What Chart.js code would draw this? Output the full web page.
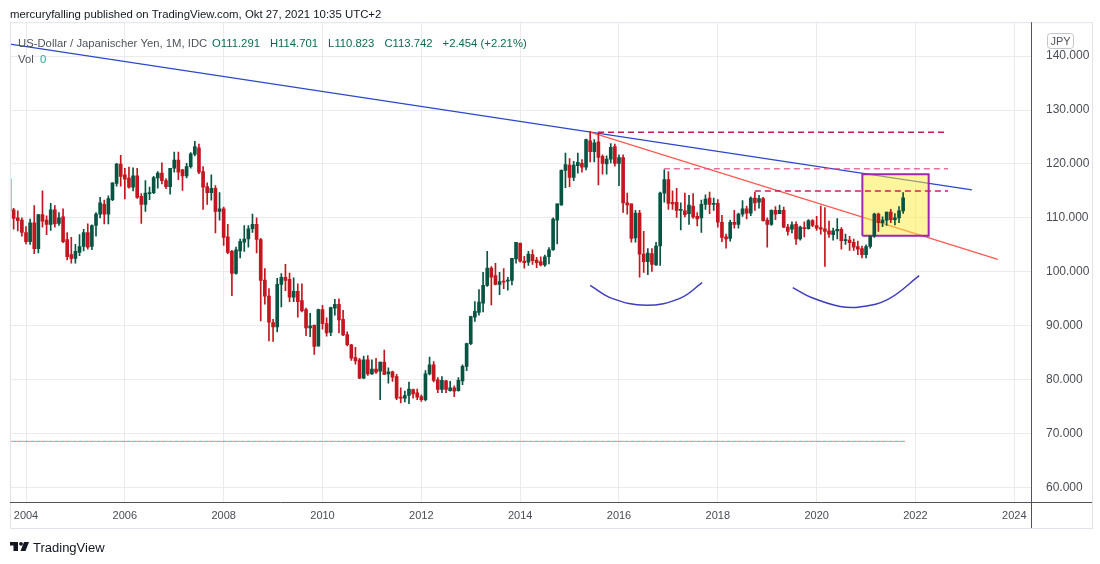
<!DOCTYPE html>
<html>
<head>
<meta charset="utf-8">
<script src="https://cdn.jsdelivr.net/npm/chart.js"></script>
<style>
  html, body { margin: 0; padding: 0; background: #fff; }
  #wrap { width: 1100px; height: 564px; }
</style>
</head>
<body>
<div id="wrap"><canvas id="chart" width="1100" height="564"></canvas></div>
<script>
// monthly USD/JPY candles, index 0 = Sep 2003
const opens = [
  117.2, 111.5, 110.0, 109.6,
  107.3, 105.6, 109.1, 104.3, 110.6, 109.6, 108.8, 111.5, 109.0, 110.2, 106.0, 103.2,
  102.5, 103.6, 104.7, 107.3, 104.7, 108.6, 110.7, 112.5, 110.7, 113.4, 116.4, 120.0,
  118.0, 117.4, 115.7, 117.8, 114.0, 112.5, 114.5, 114.7, 117.4, 118.3, 116.9, 115.8,
  119.2, 120.7, 118.9, 117.8, 119.5, 121.8, 123.0, 118.6, 115.8, 114.7, 115.5, 111.2,
  111.7, 106.5, 103.8, 99.7, 103.9, 105.5, 106.1, 108.0, 108.8, 106.0, 98.5, 95.5,
  90.6, 89.8, 97.7, 99.0, 98.6, 95.3, 96.4, 94.7, 93.0, 89.6, 90.1, 86.3,
  93.0, 90.4, 88.8, 93.3, 94.0, 91.2, 88.4, 86.5, 84.1, 83.7, 80.3, 83.7,
  81.1, 82.0, 81.6, 83.3, 81.1, 81.5, 80.6, 76.8, 76.6, 77.1, 78.2, 77.6,
  76.9, 76.3, 81.1, 82.8, 80.0, 78.2, 79.8, 78.0, 78.5, 78.0, 79.8, 82.5,
  86.7, 91.6, 92.5, 94.2, 97.5, 100.7, 99.3, 97.7, 98.3, 98.3, 98.4, 102.4,
  105.3, 102.0, 101.8, 103.2, 102.2, 101.9, 101.3, 102.8, 104.1, 109.6, 112.4, 118.8,
  119.8, 117.5, 119.7, 120.1, 119.4, 124.3, 122.3, 124.1, 121.4, 120.0, 120.9, 123.2,
  120.1, 121.2, 112.8, 112.6, 106.3, 110.9, 103.3, 101.9, 103.4, 101.3, 104.8, 114.6,
  117.1, 112.9, 112.9, 111.4, 111.3, 110.8, 112.2, 110.3, 110.0, 112.5, 113.7, 112.5,
  112.7, 109.2, 106.5, 106.2, 109.2, 108.8, 110.7, 111.7, 110.9, 113.7, 112.9, 113.6,
  109.6, 108.8, 111.4, 110.8, 111.4, 108.3, 107.9, 108.8, 106.1, 108.2, 108.0, 109.5,
  108.6, 108.2, 108.0, 107.6, 106.9, 107.6, 107.9, 105.8, 105.9, 105.5, 104.7, 104.3,
  103.2, 104.7, 106.6, 110.7, 109.1, 109.6, 111.1, 109.7, 110.0, 111.291
];
const highs = [
  117.4, 111.8, 111.3, 110.0,
  108.4, 109.8, 112.3, 110.6, 115.0, 110.4, 112.7, 112.3, 111.0, 111.7, 107.3, 106.4,
  105.1, 106.9, 107.9, 108.9, 108.7, 111.0, 113.8, 113.3, 114.1, 116.5, 120.1, 121.6,
  119.2, 119.4, 119.3, 119.2, 114.5, 116.9, 115.7, 117.7, 118.6, 120.2, 117.3, 119.2,
  122.2, 122.2, 119.0, 120.1, 122.1, 124.2, 123.7, 119.5, 116.5, 118.0, 116.0, 114.7,
  112.0, 108.8, 104.0, 104.6, 106.1, 108.6, 108.6, 110.7, 110.0, 106.2, 100.6, 96.9,
  91.2, 98.8, 99.7, 101.4, 99.8, 98.9, 97.8, 97.8, 93.3, 92.3, 90.2, 93.1,
  93.8, 91.5, 93.5, 94.9, 95.0, 92.9, 88.9, 86.6, 86.0, 84.0, 84.4, 84.5,
  83.7, 84.0, 83.3, 85.5, 82.2, 81.6, 81.0, 78.5, 77.9, 79.6, 78.3, 78.3,
  77.2, 81.7, 84.2, 83.4, 80.4, 80.6, 79.9, 79.7, 78.9, 80.4, 82.8, 86.8,
  91.8, 94.5, 96.7, 99.9, 103.8, 101.0, 101.6, 99.9, 100.6, 99.0, 102.5, 105.5,
  105.4, 102.9, 103.8, 104.1, 102.7, 102.8, 103.1, 104.5, 110.0, 112.6, 118.9, 122.0,
  121.0, 120.5, 122.0, 120.8, 124.6, 126.0, 124.5, 125.7, 121.7, 121.5, 123.8, 123.7,
  121.7, 121.7, 114.6, 112.6, 111.4, 111.4, 107.5, 104.3, 104.3, 105.5, 114.8, 118.9,
  118.6, 115.0, 115.5, 112.8, 114.6, 114.2, 114.5, 111.0, 113.3, 114.3, 114.8, 113.7,
  113.4, 110.5, 107.0, 109.6, 111.4, 110.9, 113.2, 112.2, 113.9, 114.8, 114.2, 113.8,
  110.0, 111.5, 112.1, 112.4, 112.0, 108.8, 109.3, 109.3, 108.5, 109.3, 109.7, 109.7,
  110.3, 112.2, 111.9, 109.4, 108.1, 109.9, 108.2, 107.0, 106.6, 106.1, 105.7, 104.8,
  105.0, 106.7, 110.9, 110.9, 110.2, 111.1, 111.6, 110.8, 112.1, 114.701
];
const lows = [
  110.9, 107.9, 107.6, 106.6,
  105.2, 105.1, 103.4, 103.5, 108.3, 106.9, 107.7, 108.3, 108.6, 105.4, 102.2, 101.6,
  101.6, 103.0, 103.9, 104.2, 104.1, 106.6, 110.0, 108.9, 108.9, 113.2, 115.9, 115.9,
  113.5, 115.5, 115.0, 113.6, 109.0, 111.2, 113.4, 114.5, 115.5, 116.3, 115.4, 114.4,
  118.5, 117.1, 115.1, 117.4, 119.2, 121.5, 118.2, 111.6, 112.5, 113.3, 107.2, 109.6,
  104.9, 103.4, 95.6, 99.6, 102.6, 103.8, 104.6, 107.3, 103.5, 90.9, 94.0, 87.2,
  87.1, 88.9, 93.5, 96.5, 94.5, 94.5, 91.6, 92.6, 88.2, 88.0, 84.7, 86.2,
  89.4, 88.1, 88.2, 92.0, 88.7, 88.2, 86.3, 83.6, 82.9, 80.2, 80.2, 80.8,
  81.0, 81.2, 76.3, 81.0, 79.4, 79.7, 76.3, 75.7, 75.9, 75.6, 76.6, 76.3,
  76.0, 76.1, 80.9, 79.6, 77.6, 77.6, 77.6, 77.9, 76.9, 77.9, 79.1, 81.7,
  86.5, 90.8, 92.0, 92.6, 97.3, 93.9, 97.6, 95.8, 96.9, 96.6, 97.6, 101.6,
  101.8, 100.7, 101.2, 101.4, 100.8, 101.1, 101.0, 101.5, 104.0, 105.2, 112.3, 115.6,
  115.8, 116.9, 118.3, 118.5, 118.9, 120.4, 120.4, 116.1, 118.1, 118.1, 120.2, 119.6,
  116.0, 111.0, 110.7, 105.5, 105.5, 99.0, 99.9, 99.5, 100.1, 101.2, 101.2, 112.9,
  111.6, 111.6, 110.1, 107.8, 110.2, 108.8, 109.9, 108.5, 107.3, 111.6, 110.8, 111.4,
  108.3, 105.6, 104.4, 105.7, 108.1, 108.1, 110.3, 109.8, 110.4, 111.4, 111.8, 109.4,
  104.6, 108.6, 109.7, 110.8, 108.2, 106.8, 107.2, 105.1, 105.9, 106.5, 107.9, 108.4,
  107.7, 107.0, 101.0, 106.4, 105.9, 106.1, 104.2, 105.1, 104.0, 104.0, 103.2, 102.6,
  102.6, 104.4, 106.4, 107.5, 108.4, 108.6, 109.1, 108.7, 109.1, 110.823
];
const closes = [
  111.4, 109.9, 109.5, 107.3,
  105.6, 109.1, 104.3, 110.6, 109.4, 108.8, 111.5, 108.9, 110.0, 105.6, 102.8, 102.5,
  103.8, 104.7, 107.3, 104.6, 108.6, 110.7, 112.8, 110.7, 113.6, 116.5, 120.0, 117.7,
  117.2, 115.7, 117.8, 113.8, 112.5, 114.6, 114.7, 117.5, 118.3, 116.9, 115.8, 119.2,
  120.7, 118.5, 117.8, 119.5, 121.9, 123.2, 118.5, 115.7, 114.7, 115.5, 111.2, 111.7,
  106.4, 103.6, 99.7, 104.1, 105.6, 106.1, 108.0, 108.8, 106.0, 98.4, 95.5, 90.7,
  89.8, 97.7, 99.0, 98.4, 95.3, 96.4, 94.5, 92.8, 89.6, 90.0, 86.2, 93.0,
  90.4, 88.7, 93.4, 94.0, 91.1, 88.3, 86.5, 84.0, 83.5, 80.3, 83.7, 81.1,
  82.0, 81.4, 83.3, 81.0, 81.5, 80.5, 76.6, 76.6, 77.1, 78.3, 77.4, 76.8,
  76.3, 81.1, 82.8, 79.9, 78.2, 79.9, 78.2, 78.5, 77.9, 79.9, 82.5, 86.7,
  91.7, 92.7, 94.4, 97.5, 100.7, 99.0, 97.7, 98.2, 98.1, 98.4, 102.5, 105.5,
  102.0, 101.7, 103.3, 102.1, 101.7, 101.3, 102.8, 104.1, 109.8, 112.6, 118.8, 119.9,
  117.5, 119.8, 120.3, 119.4, 124.5, 122.3, 123.9, 121.2, 120.1, 120.9, 123.1, 120.1,
  121.2, 112.8, 112.4, 106.2, 110.9, 103.3, 101.9, 103.5, 101.4, 104.8, 114.6, 117.1,
  112.7, 112.6, 111.4, 111.5, 110.6, 112.4, 110.2, 109.8, 112.5, 113.5, 112.5, 112.7,
  109.2, 106.4, 106.1, 109.2, 108.8, 110.7, 111.7, 110.9, 113.7, 112.8, 113.6, 109.5,
  108.8, 111.4, 110.7, 111.4, 108.3, 107.5, 108.7, 106.1, 108.3, 108.0, 109.5, 108.6,
  108.1, 107.9, 107.5, 107.0, 107.6, 107.9, 105.8, 105.9, 105.4, 104.6, 104.2, 103.2,
  104.7, 106.6, 110.7, 109.1, 109.6, 111.1, 109.7, 110.0, 111.3, 113.742
];

const yearTicks = [2004, 2006, 2008, 2010, 2012, 2014, 2016, 2018, 2020, 2022, 2024];
const priceTicks = [60, 70, 80, 90, 100, 110, 120, 130, 140];

// drawings, as [month index, price]
const resistanceLine = [[0.11, 142.2], [233.7, 115.2]];
const supportLine = [[141.0, 125.9], [240.0, 102.3]];
const levelTop = [[142.9, 125.9], [227.9, 125.9]];
const levelMid = [[158.9, 119.1], [227.9, 119.1]];
const levelLow = [[181.0, 115.0], [227.9, 115.0]];
const boxCorners = [[207.1, 106.7], [207.1, 118.1], [223.2, 118.1], [223.2, 106.7], [207.1, 106.7]];
const boxTop = [[207.1, 118.1], [223.2, 118.1]];
const boxBottom = 106.7;
const arcLeft = [[141.0, 97.5], [146.3, 95.1], [154.6, 93.8], [162.8, 95.1], [168.2, 98.0]];
const arcRight = [[190.2, 97.1], [194.9, 95.2], [201.7, 93.6], [206.5, 93.5], [213.3, 94.9], [220.9, 99.3]];
const priceLine = [[0.11, 68.6], [217.5, 68.6]];

const upColor = '#085443';
const downColor = '#c4161e';

const count = Math.min(opens.length, highs.length, lows.length, closes.length);
const months = Array.from({ length: count }, (_, i) => i);
const candleColors = months.map(i => closes[i] >= opens[i] ? upColor : downColor);
const wicks = months.map(i => ({ x: i, y: [lows[i], highs[i]] }));
const bodies = months.map(i => ({ x: i, y: [opens[i], closes[i]] }));
const pts = arr => arr.map(([x, y]) => ({ x, y }));

function lineSet(data, color, width, order, extra) {
  return Object.assign({
    type: 'line', data: pts(data), borderColor: color, borderWidth: width,
    pointRadius: 0, fill: false, tension: 0, order
  }, extra || {});
}

const FONT = '"Liberation Sans", Arial, sans-serif';

// frame, header and legend texts
const framePlugin = {
  id: 'frame',
  beforeDraw(chart) {
    const ctx = chart.ctx;
    ctx.save();
    ctx.fillStyle = '#ffffff';
    ctx.fillRect(0, 0, chart.width, chart.height);
    ctx.restore();
  },
  afterDraw(chart) {
    const ctx = chart.ctx;
    const a = chart.chartArea;
    const right = a.right + chart.scales.y.width;
    const bottom = a.bottom + chart.scales.x.height;
    ctx.save();
    ctx.strokeStyle = '#e0e3eb';
    ctx.lineWidth = 1;
    ctx.strokeRect(a.left + 0.5, a.top + 0.5, right - a.left, bottom - a.top);
    ctx.strokeStyle = '#50535e';
    ctx.beginPath();
    ctx.moveTo(Math.round(a.right) + 0.5, a.top);
    ctx.lineTo(Math.round(a.right) + 0.5, bottom);
    ctx.moveTo(a.left, Math.round(a.bottom) + 0.5);
    ctx.lineTo(right, Math.round(a.bottom) + 0.5);
    ctx.stroke();

    ctx.textBaseline = 'alphabetic';
    ctx.fillStyle = '#131722';
    ctx.font = '11.4px ' + FONT;
    ctx.fillText('mercuryfalling published on TradingView.com, Okt 27, 2021 10:35 UTC+2', 10, 18);

    ctx.font = '11.3px ' + FONT;
    ctx.fillStyle = '#50535e';
    ctx.fillText('US-Dollar / Japanischer Yen, 1M, IDC', 18, 47);
    ctx.fillStyle = '#0b6b55';
    const ohlc = ['O111.291', 'H114.701', 'L110.823', 'C113.742', '+2.454 (+2.21%)'];
    let x = 212;
    ohlc.forEach(t => { ctx.fillText(t, x, 47); x += ctx.measureText(t).width + 10; });
    ctx.fillStyle = '#50535e';
    ctx.fillText('Vol', 18, 63);
    ctx.fillStyle = '#26a69a';
    ctx.fillText('0', 40, 63);

    // currency badge
    ctx.strokeStyle = '#c3c6ce';
    ctx.beginPath();
    if (ctx.roundRect) ctx.roundRect(1047.5, 33.5, 26, 15, 3); else ctx.rect(1047.5, 33.5, 26, 15);
    ctx.stroke();
    ctx.fillStyle = '#50535e';
    ctx.font = '11px ' + FONT;
    ctx.textAlign = 'center';
    ctx.fillText('JPY', 1060.5, 45);

    // logo
    ctx.textAlign = 'left';
    ctx.fillStyle = '#131722';
    ctx.fillRect(10, 542, 8, 3.5);
    ctx.fillRect(13.5, 542, 4.5, 9);
    ctx.beginPath();
    ctx.arc(21, 543.8, 1.9, 0, Math.PI * 2);
    ctx.fill();
    ctx.beginPath();
    ctx.moveTo(24, 542); ctx.lineTo(29, 542); ctx.lineTo(25.5, 551); ctx.lineTo(20.5, 551);
    ctx.closePath();
    ctx.fill();
    ctx.font = '13px ' + FONT;
    ctx.fillText('TradingView', 33, 552);
    ctx.restore();
  }
};

const ctx = document.getElementById('chart').getContext('2d');
new Chart(ctx, {
  type: 'bar',
  data: {
    datasets: [
      lineSet(priceLine, 'rgba(239,110,110,0.8)', 1, 1, { borderDash: [3, 3] }),
      lineSet(priceLine, 'rgba(38,166,154,0.8)', 1, 2, { borderDash: [3, 3], borderDashOffset: 3 }),
      lineSet(arcLeft, '#3f3dbd', 1.5, 3, { tension: 0.4 }),
      lineSet(arcRight, '#3f3dbd', 1.5, 4, { tension: 0.4 }),
      {
        type: 'bar', data: bodies, backgroundColor: candleColors, barThickness: 3,
        minBarLength: 1, grouped: false, borderWidth: 0, order: 5
      },
      {
        type: 'bar', data: wicks, backgroundColor: candleColors, barThickness: 1,
        grouped: false, borderWidth: 0, order: 6
      },
      lineSet(levelLow, '#d81b60', 1.5, 7, { borderDash: [6, 4] }),
      lineSet(levelMid, 'rgba(226,90,140,0.85)', 1.5, 8, { borderDash: [6, 4] }),
      lineSet(levelTop, '#c2185b', 1.5, 9, { borderDash: [6, 4] }),
      lineSet(boxCorners, '#9c27b0', 2, 10),
      lineSet(boxTop, 'rgba(0,0,0,0)', 0, 11, { fill: { value: boxBottom }, backgroundColor: 'rgba(255,235,59,0.5)' }),
      lineSet(supportLine, '#ff5a4f', 1.3, 12),
      lineSet(resistanceLine, '#2b48c9', 1.3, 13)
    ]
  },
  options: {
    responsive: false,
    animation: false,
    devicePixelRatio: 1,
    layout: { padding: { left: 10, top: 21, right: 8, bottom: 36 } },
    plugins: { legend: { display: false }, tooltip: { enabled: false } },
    scales: {
      x: {
        type: 'linear',
        min: 0.114,
        max: 248.05,
        offset: false,
        grid: { color: '#ebebee', drawTicks: false, offset: false },
        border: { display: false },
        afterBuildTicks: s => { s.ticks = yearTicks.map(y => ({ value: (y - 2004) * 12 + 4 })); },
        afterFit: s => { s.height = 26; },
        ticks: {
          autoSkip: false, maxRotation: 0, padding: 7,
          color: '#4a4d57',
          font: { family: FONT, size: 11 },
          callback: v => String(Math.round(2004 + (v - 4) / 12))
        }
      },
      y: {
        position: 'right',
        min: 57.36,
        max: 146.27,
        grid: { color: '#ebebee', drawTicks: false },
        border: { display: false },
        afterBuildTicks: s => { s.ticks = priceTicks.map(v => ({ value: v })); },
        afterFit: s => { s.width = 61; },
        ticks: {
          padding: 15,
          color: '#4a4d57',
          font: { family: FONT, size: 12 },
          callback: v => v.toFixed(3)
        }
      }
    }
  },
  plugins: [framePlugin]
});
</script>
</body>
</html>
